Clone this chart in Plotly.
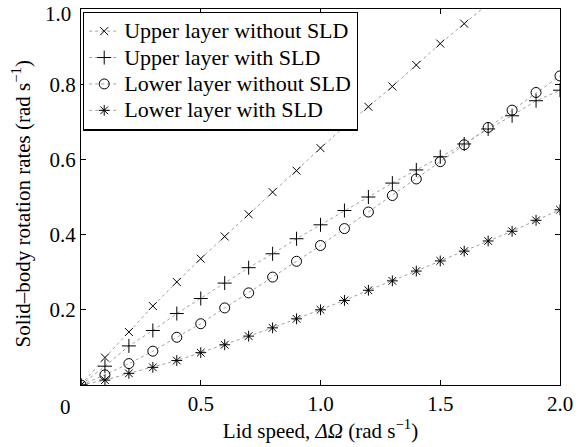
import plotly.graph_objects as go

lid_speed = [0.0, 0.1, 0.2, 0.3, 0.4, 0.5, 0.6, 0.7, 0.8, 0.9, 1.0,
             1.1, 1.2, 1.3, 1.4, 1.5, 1.6, 1.7, 1.8, 1.9, 2.0]

upper_without = [0.0, 0.073, 0.141, 0.210, 0.274, 0.336, 0.395, 0.454, 0.513, 0.570, 0.630,
                 0.687, 0.740, 0.794, 0.851, 0.908, 0.961, 1.015, 1.070, 1.120, 1.170]
upper_with = [0.0, 0.050, 0.104, 0.145, 0.190, 0.230, 0.271, 0.312, 0.349, 0.389, 0.426,
              0.464, 0.500, 0.537, 0.572, 0.607, 0.641, 0.681, 0.716, 0.756, 0.784]
lower_without = [0.0, 0.027, 0.057, 0.090, 0.127, 0.163, 0.205, 0.245, 0.287, 0.329, 0.371,
                 0.416, 0.460, 0.504, 0.548, 0.594, 0.639, 0.685, 0.731, 0.778, 0.822]
lower_with = [0.0, 0.013, 0.031, 0.047, 0.065, 0.086, 0.107, 0.130, 0.152, 0.176, 0.200,
              0.225, 0.252, 0.277, 0.303, 0.330, 0.356, 0.383, 0.409, 0.438, 0.466]

series_names = ["Upper layer without SLD", "Upper layer with SLD",
                "Lower layer without SLD", "Lower layer with SLD"]
series_values = [upper_without, upper_with, lower_without, lower_with]
series_symbols = ["x-thin-open", "cross-thin-open", "circle-open", "asterisk-open"]
series_sizes = [8, 10, 10, 9]

x_tick_vals = [0.5, 1.0, 1.5, 2.0]
x_tick_text = ["0.5", "1.0", "1.5", "2.0"]
y_tick_vals = [0.2, 0.4, 0.6, 0.8]
y_tick_text = ["0.2", "0.4", "0.6", "0.8"]
x_corner_label = (0.0, "0")
y_corner_label = (1.0, "1.0")
x_title = "Lid speed, <i>ΔΩ</i> (rad s<sup>−1</sup>)"
y_title = "Solid–body rotation rates (rad s<sup>−1</sup>)"

FONT = "Liberation Serif"
FS = 21

fig = go.Figure()
for name, vals, sym, sz in zip(series_names, series_values, series_symbols, series_sizes):
    fig.add_trace(go.Scatter(
        x=lid_speed, y=vals, mode="lines+markers",
        name=f'<span style="font-size:22px">{name}</span>',
        line=dict(color="#a0a0a0", width=1, dash="dot"),
        marker=dict(symbol=sym, size=sz, color="black",
                    line=dict(color="black", width=1)),
    ))

fig.add_annotation(x=x_corner_label[0], xref="x", y=0, yref="paper", text=x_corner_label[1],
                   showarrow=False, xshift=-16, yanchor="top", yshift=-8,
                   font=dict(family=FONT, size=FS, color="black"))
fig.add_annotation(x=0, xref="paper", y=y_corner_label[0], yref="y", text=y_corner_label[1],
                   showarrow=False, xanchor="right", xshift=-8, yanchor="middle", yshift=-5,
                   font=dict(family=FONT, size=FS, color="black"))
fig.add_annotation(x=0, xref="paper", y=0.48, yref="paper", text=y_title,
                   showarrow=False, textangle=-90, xanchor="center", yanchor="middle",
                   xshift=-59, font=dict(family=FONT, size=FS, color="black"))

fig.update_layout(
    width=581, height=447,
    margin=dict(l=81, r=17, t=8, b=62),
    paper_bgcolor="white", plot_bgcolor="white",
    font=dict(family=FONT, size=FS, color="black"),
    showlegend=True,
    legend=dict(x=0.004, y=0.993, xanchor="left", yanchor="top",
                bordercolor="black", borderwidth=1.3, bgcolor="white",
                font=dict(family=FONT, size=18), itemwidth=30,
                tracegroupgap=0),
    xaxis=dict(range=[0, 2.0], tickvals=x_tick_vals, ticktext=x_tick_text,
               ticks="inside", ticklen=5, tickcolor="black", tickwidth=1,
               showline=True, linecolor="black", linewidth=1.3, mirror="ticks",
               showgrid=False, zeroline=False,
               title=dict(text=x_title, standoff=6,
                          font=dict(family=FONT, size=FS))),
    yaxis=dict(range=[0, 1.0], tickvals=y_tick_vals, ticktext=y_tick_text,
               ticks="inside", ticklen=5, tickcolor="black", tickwidth=1,
               showline=True, linecolor="black", linewidth=1.3, mirror="ticks",
               showgrid=False, zeroline=False),
)

fig.write_html("out.html")
